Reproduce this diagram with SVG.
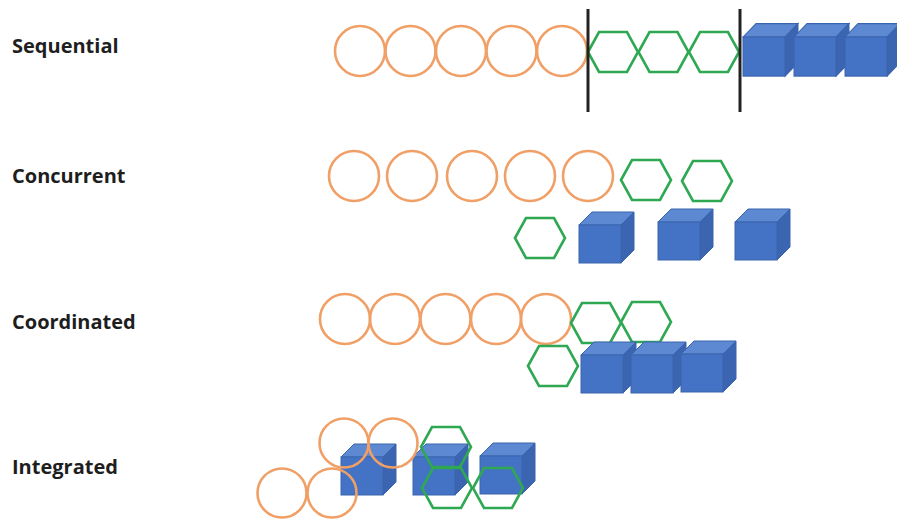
<svg xmlns="http://www.w3.org/2000/svg" xmlns:xlink="http://www.w3.org/1999/xlink" width="897" height="522" viewBox="0 0 897 522">
<style>
.lbl{font-family:"Open Sans","Noto Sans","Liberation Sans",sans-serif;font-weight:bold;font-size:20px;fill:#1e1e1e}
.circ{fill:none;stroke:#F0A066;stroke-width:2.6}
.hex{fill:none;stroke:#2EA852;stroke-width:2.6}
.front{fill:#4472C4;stroke:#3A64AE;stroke-width:1}
.top{fill:#5D88D2;stroke:#3A64AE;stroke-width:1}
.side{fill:#3B65B0;stroke:#3A64AE;stroke-width:1}
.div{stroke:#222;stroke-width:3}
</style>
<defs>
<polygon id="hexS" points="-25,0 -14,-20 14,-20 25,0 14,20 -14,20"/>
<g id="cube">
<polygon class="top" points="0,0 13,-13 55,-13 42,0"/>
<polygon class="side" points="42,0 55,-13 55,25 42,38"/>
<rect class="front" x="0" y="0" width="42" height="38"/>
</g>
</defs>
<rect width="897" height="522" fill="#ffffff"/>

<g id="labels">
<text id="lbl-sequential" class="lbl" x="12" y="53">Sequential</text>
<text id="lbl-concurrent" class="lbl" x="12" y="183">Concurrent</text>
<text id="lbl-coordinated" class="lbl" x="12" y="329">Coordinated</text>
<text id="lbl-integrated" class="lbl" x="12" y="474">Integrated</text>
</g>

<g id="row-sequential">
<circle id="seq-c1" class="circ" cx="360" cy="51" r="25"/>
<circle id="seq-c2" class="circ" cx="410.5" cy="51" r="25"/>
<circle id="seq-c3" class="circ" cx="461" cy="51" r="25"/>
<circle id="seq-c4" class="circ" cx="511.5" cy="51" r="25"/>
<circle id="seq-c5" class="circ" cx="562" cy="51" r="25"/>
<use id="seq-h1" class="hex" xlink:href="#hexS" href="#hexS" x="613" y="52"/>
<use id="seq-h2" class="hex" xlink:href="#hexS" href="#hexS" x="663.5" y="52"/>
<use id="seq-h3" class="hex" xlink:href="#hexS" href="#hexS" x="714" y="52"/>
<use id="seq-k1" xlink:href="#cube" href="#cube" transform="translate(743,37) scale(1,1.03)"/>
<use id="seq-k2" xlink:href="#cube" href="#cube" transform="translate(794,37) scale(1,1.03)"/>
<use id="seq-k3" xlink:href="#cube" href="#cube" transform="translate(845,37) scale(1,1.03)"/>
</g>

<g id="dividers">
<line class="div" x1="588" y1="9" x2="588" y2="112"/>
<line class="div" x1="740" y1="9" x2="740" y2="112"/>
</g>

<g id="row-concurrent">
<circle id="con-c1" class="circ" cx="354" cy="176" r="25"/>
<circle id="con-c2" class="circ" cx="412" cy="176" r="25"/>
<circle id="con-c3" class="circ" cx="472" cy="176" r="25"/>
<circle id="con-c4" class="circ" cx="530" cy="176" r="25"/>
<circle id="con-c5" class="circ" cx="588" cy="176" r="25"/>
<use id="con-h1" class="hex" xlink:href="#hexS" href="#hexS" x="646" y="180"/>
<use id="con-h2" class="hex" xlink:href="#hexS" href="#hexS" x="707" y="181"/>
<use id="con-h3" class="hex" xlink:href="#hexS" href="#hexS" x="540" y="238"/>
<use id="con-k1" xlink:href="#cube" href="#cube" x="579" y="225"/>
<use id="con-k2" xlink:href="#cube" href="#cube" x="658" y="222"/>
<use id="con-k3" xlink:href="#cube" href="#cube" x="735" y="222"/>
</g>

<g id="row-coordinated">
<circle id="coo-c1" class="circ" cx="345" cy="319" r="25"/>
<circle id="coo-c2" class="circ" cx="395" cy="319" r="25"/>
<circle id="coo-c3" class="circ" cx="445.5" cy="319" r="25"/>
<circle id="coo-c4" class="circ" cx="496" cy="319" r="25"/>
<circle id="coo-c5" class="circ" cx="546" cy="319" r="25"/>
<use id="coo-h1" class="hex" xlink:href="#hexS" href="#hexS" x="596" y="323"/>
<use id="coo-h2" class="hex" xlink:href="#hexS" href="#hexS" x="646" y="322"/>
<use id="coo-h3" class="hex" xlink:href="#hexS" href="#hexS" x="553" y="366"/>
<use id="coo-k1" xlink:href="#cube" href="#cube" x="581" y="355"/>
<use id="coo-k2" xlink:href="#cube" href="#cube" x="631" y="355"/>
<use id="coo-k3" xlink:href="#cube" href="#cube" x="681" y="354"/>
</g>

<g id="row-integrated">
<use id="int-k1" xlink:href="#cube" href="#cube" x="341" y="457"/>
<use id="int-k2" xlink:href="#cube" href="#cube" x="413" y="457"/>
<use id="int-k3" xlink:href="#cube" href="#cube" x="480" y="456"/>
<circle id="int-c1" class="circ" cx="282" cy="493" r="24.5"/>
<circle id="int-c2" class="circ" cx="332" cy="493" r="24.5"/>
<circle id="int-c3" class="circ" cx="344" cy="443" r="24.5"/>
<circle id="int-c4" class="circ" cx="393" cy="443" r="24.5"/>
<use id="int-h1" class="hex" xlink:href="#hexS" href="#hexS" x="446" y="447"/>
<use id="int-h2" class="hex" xlink:href="#hexS" href="#hexS" x="447" y="488"/>
<use id="int-h3" class="hex" xlink:href="#hexS" href="#hexS" x="498" y="488"/>
</g>
</svg>
